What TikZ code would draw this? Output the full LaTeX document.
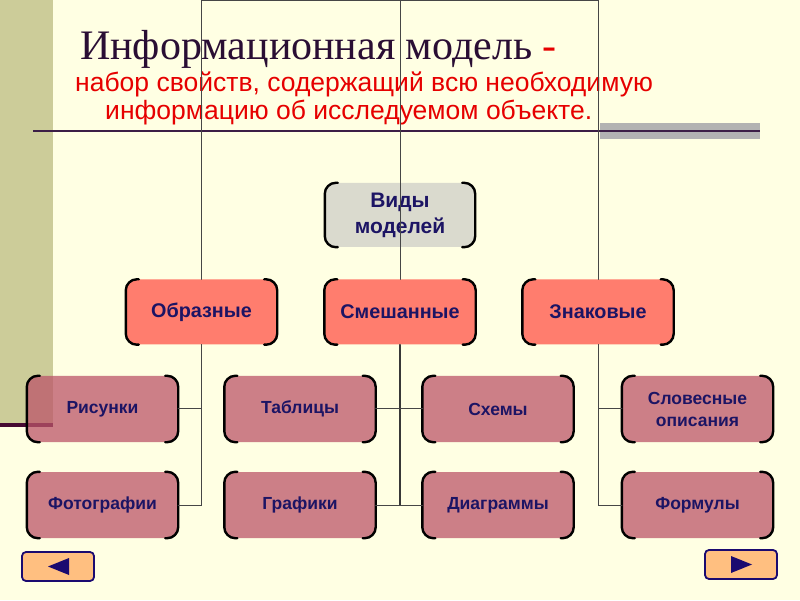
\documentclass[tikz,border=0pt]{standalone}
\usepackage{fontspec}
\setmainfont{Liberation Sans}
\newfontfamily\titlefont{Liberation Serif}
\usetikzlibrary{calc}

\definecolor{slidebg}{RGB}{255,255,227}
\definecolor{barolive}{RGB}{204,204,153}
\definecolor{barline}{RGB}{70,10,50}
\definecolor{titleink}{RGB}{42,14,52}
\definecolor{subred}{RGB}{230,0,0}
\definecolor{ruleink}{RGB}{60,30,70}
\definecolor{rulegray}{RGB}{178,178,178}
\definecolor{linegray}{RGB}{70,70,70}
\definecolor{boxink}{RGB}{28,20,100}
\definecolor{rootfill}{RGB}{218,218,206}
\definecolor{kindfill}{RGB}{255,125,110}
\definecolor{leaffill}{RGB}{187,85,105}
\definecolor{navfill}{RGB}{255,191,128}
\definecolor{navink}{RGB}{26,10,112}

% left and right brackets round a box
\newcommand\bracketframe[1]{%
  \draw[bracket] ([xshift=13pt]#1.north west) -- ([xshift=11pt]#1.north west)
    arc[start angle=90, end angle=180, radius=11pt] -- ([yshift=11pt]#1.south west)
    arc[start angle=180, end angle=270, radius=11pt] -- ([xshift=13pt]#1.south west);
  \draw[bracket] ([xshift=-13pt]#1.north east) -- ([xshift=-11pt]#1.north east)
    arc[start angle=90, end angle=0, radius=11pt] -- ([yshift=11pt]#1.south east)
    arc[start angle=0, end angle=-90, radius=11pt] -- ([xshift=-13pt]#1.south east);}

\begin{document}
\begin{tikzpicture}[
    x=1pt, y=1pt,
    line cap=round,
    box/.style={rectangle, rounded corners=11pt, align=center, text=boxink,
      font=\bfseries, inner sep=0pt},
    root box/.style={box, fill=rootfill, minimum width=150pt, minimum height=64pt,
      font=\fontsize{21}{26}\selectfont\bfseries},
    kind box/.style={box, fill=kindfill, minimum width=151pt, minimum height=65pt,
      font=\fontsize{19.8}{24}\selectfont\bfseries},
    leaf box/.style={box, fill=leaffill, fill opacity=0.75, text opacity=1,
      minimum width=151pt, minimum height=66pt,
      font=\fontsize{17.5}{22}\selectfont\bfseries},
    bracket/.style={line width=2.4pt, black},
    connector/.style={draw=linegray, line width=1pt},
    trunk/.style={draw=linegray!80!black, line width=1.6pt},
    nav button/.style={rectangle, rounded corners=4pt, draw=navink, fill=navfill,
      line width=1.8pt, minimum width=72pt, minimum height=29pt},
  ]
  \useasboundingbox (0,0) rectangle (800,600);
  \fill[slidebg] (0,0) rectangle (800,600);

  % Slide frame: left bar and title rule.
  \fill[barolive] (0,175) rectangle (53,600);
  \draw[barline, line width=3pt, line cap=butt] (0,175) -- (53,175);
  \fill[rulegray] (600,461) rectangle (760,477);
  \draw[ruleink, line width=1.8pt, line cap=butt] (33,469) -- (760,469);

  % Heading.
  \node[anchor=base west, inner sep=0pt, text=titleink,
    font=\titlefont\fontsize{42}{42}\selectfont] (title) at (80,540)
    {Информационная модель \textcolor{subred}{-}};
  \node[anchor=base west, inner sep=0pt, text=subred,
    font=\fontsize{26.5}{26.5}\selectfont] (sub1) at (75,508)
    {набор свойств, содержащий всю необходимую};
  \node[anchor=base west, inner sep=0pt, text=subred,
    font=\fontsize{26.5}{26.5}\selectfont] (sub2) at (105,480)
    {информацию об исследуемом объекте.};

  % Boxes of the tree.
  \node[root box] (vid) at (400,385) {Виды\\моделей};

  \node[kind box] (obraz) at (201.5,288) {Образные};
  \node[kind box] (smesh) at (400,288) {Смешанные};
  \node[kind box] (znak) at (598,288) {Знаковые};

  \node[leaf box] (ris) at (102.5,191) {Рисунки};
  \node[leaf box] (tabl) at (300,191) {Таблицы};
  \node[leaf box] (shem) at (498,191) {Схемы};
  \node[leaf box] (slov) at (697.5,191) {Словесные\\описания};
  \node[leaf box] (foto) at (102.5,95) {Фотографии};
  \node[leaf box] (graf) at (300,95) {Графики};
  \node[leaf box] (diag) at (498,95) {Диаграммы};
  \node[leaf box] (form) at (697.5,95) {Формулы};

  \foreach \n in {vid,obraz,smesh,znak,ris,tabl,shem,slov,foto,graf,diag,form}
    \bracketframe{\n};

  % Connectors; the middle one runs over the root box.
  \coordinate (top) at (400,599.5);
  \draw[connector] (obraz.north) |- (top) -| (znak.north);
  \draw[connector] (top) -- (smesh.north);
  \draw[connector] (obraz.south) |- (ris.east);
  \draw[connector] (obraz.south) |- (foto.east);
  \draw[connector] (znak.south) |- (slov.west);
  \draw[connector] (znak.south) |- (form.west);
  \draw[trunk] (smesh.south) -- (smesh.south |- graf.east);
  \draw[connector] (tabl.east) -- (shem.west);
  \draw[connector] (graf.east) -- (diag.west);

  % Navigation buttons.
  \node[nav button] (back) at (58,33.5) {};
  \node[nav button] (next) at (741,35.5) {};
  \fill[navink] ([xshift=-10pt]back.center) -- ++(21,8.5) -- ++(0,-17) -- cycle;
  \fill[navink] ([xshift=11pt]next.center) -- ++(-21,8.5) -- ++(0,-17) -- cycle;
\end{tikzpicture}
\end{document}
